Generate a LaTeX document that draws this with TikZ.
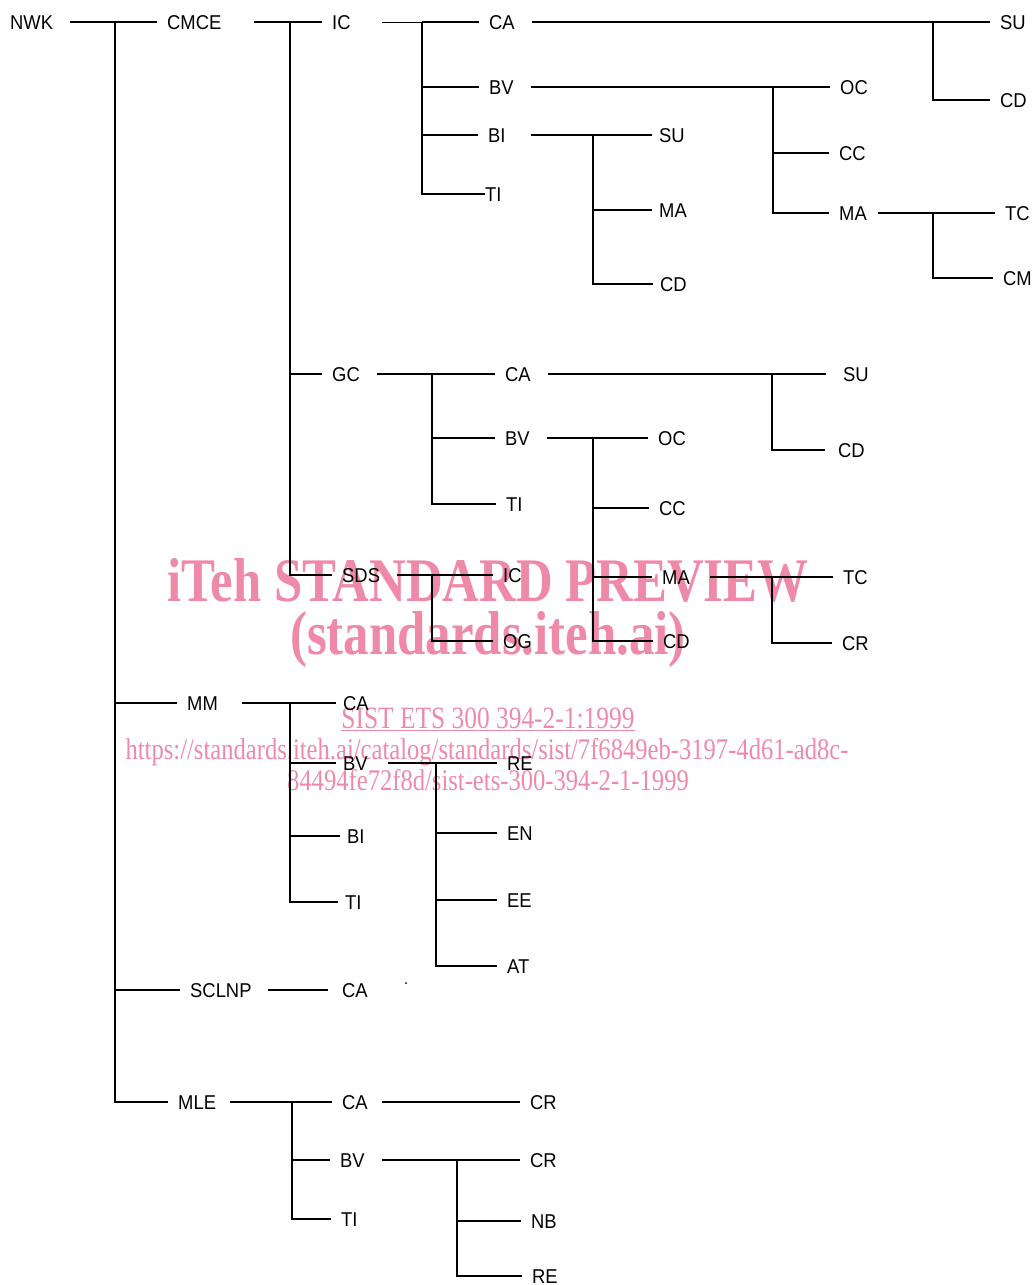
\documentclass[tikz,border=0pt]{standalone}
\usepackage{fontspec}
\usepackage{xcolor}

\newfontfamily\treefont{Liberation Sans}[FakeStretch=0.92]
\newfontfamily\markfont{Liberation Serif}[FakeStretch=0.82]
\definecolor{wmpink}{RGB}{238,138,168}

\tikzset{
	lbl/.style={anchor=west, inner sep=0pt, text height=14pt, text depth=0pt,
			font=\treefont\fontsize{20}{24}\selectfont},
	link/.style={line width=2pt, shorten <=17pt, shorten >=10pt},
	branch/.style={line width=2pt, shorten >=10pt},
	wmtext/.style={inner sep=0pt, text=wmpink}
}

\begin{document}
\begin{tikzpicture}[x=1pt, y=-1pt]
		\useasboundingbox (0,0) rectangle (1034,1285);

		% Watermark behind the tree
		\node[wmtext, font=\markfont\bfseries\fontsize{62}{62}\selectfont] (wmTitle) at (488,580) {iTeh STANDARD PREVIEW};
		\node[wmtext, font=\markfont\bfseries\fontsize{62}{62}\selectfont] (wmSite) at (488,640) {(standards.iteh.ai)};
		\node[wmtext, anchor=base, font=\markfont\fontsize{31}{31}\selectfont] (wmStd) at (488,728) {\underline{SIST ETS 300 394-2-1:1999}};
		\node[wmtext, anchor=base, font=\markfont\fontsize{30}{30}\selectfont] (wmUrlA) at (487,759) {https://standards.iteh.ai/catalog/standards/sist/7f6849eb-3197-4d61-ad8c-};
		\node[wmtext, anchor=base, font=\markfont\fontsize{30}{30}\selectfont] (wmUrlB) at (488,790) {84494fe72f8d/sist-ets-300-394-2-1-1999};

		% Top level
		\node[lbl] (nwk) at (10,22) {NWK};
		\node[lbl] (cmce) at (167,22) {CMCE};
		\node[lbl] (mm) at (187,703) {MM};
		\node[lbl] (sclnp) at (190,990) {SCLNP};
		\node[lbl] (mle) at (178,1102) {MLE};
		\coordinate (bNwk) at (115,22);
		\draw[link] (nwk.east) -- (cmce.west);
		\foreach \kid in {mm,sclnp,mle}
			\draw[branch] (bNwk) |- (\kid.west);

		% CMCE
		\node[lbl] (ic) at (332,22) {IC};
		\node[lbl] (gc) at (332,374) {GC};
		\node[lbl] (sds) at (342,575) {SDS};
		\coordinate (bCmce) at (290,22);
		\draw[link, shorten <=32pt] (cmce.east) -- (ic.west);
		\foreach \kid in {gc,sds}
			\draw[branch] (bCmce) |- (\kid.west);

		% CMCE / IC
		\node[lbl] (icCa) at (489,22) {CA};
		\node[lbl] (icBv) at (489,87) {BV};
		\node[lbl] (icBi) at (488,135) {BI};
		\node[lbl] (icTi) at (485,194) {TI};
		\coordinate (bIc) at (422,22);
		\draw[line width=0.9pt, shorten <=31pt] (ic.east) -- (bIc);
		\draw[branch] (bIc) -- (icCa.west);
		\foreach \kid in {icBv,icBi}
			\draw[branch] (bIc) |- (\kid.west);
		\draw[branch, shorten >=0pt] (bIc) |- (icTi.west);

		\node[lbl] (icCaSu) at (1000,22) {SU};
		\node[lbl] (icCaCd) at (1000,100) {CD};
		\coordinate (bIcCa) at (933,22);
		\draw[link] (icCa.east) -- (icCaSu.west);
		\draw[branch] (bIcCa) |- (icCaCd.west);

		\node[lbl] (icBvOc) at (840,87) {OC};
		\node[lbl] (icBvCc) at (839,153) {CC};
		\node[lbl] (icBvMa) at (839,213) {MA};
		\coordinate (bIcBv) at (773,87);
		\draw[link] (icBv.east) -- (icBvOc.west);
		\foreach \kid in {icBvCc,icBvMa}
			\draw[branch] (bIcBv) |- (\kid.west);

		\node[lbl] (icMaTc) at (1005,213) {TC};
		\node[lbl] (icMaCm) at (1003,278) {CM};
		\coordinate (bIcMa) at (933,213);
		\draw[link, shorten <=11pt] (icBvMa.east) -- (icMaTc.west);
		\draw[branch] (bIcMa) |- (icMaCm.west);

		\node[lbl] (icBiSu) at (659,135) {SU};
		\node[lbl] (icBiMa) at (659,210) {MA};
		\node[lbl] (icBiCd) at (660,284) {CD};
		\coordinate (bIcBi) at (593,135);
		\draw[link, shorten <=25pt, shorten >=7pt] (icBi.east) -- (icBiSu.west);
		\foreach \kid in {icBiMa,icBiCd}
			\draw[branch, shorten >=7pt] (bIcBi) |- (\kid.west);

		% CMCE / GC
		\node[lbl] (gcCa) at (505,374) {CA};
		\node[lbl] (gcBv) at (505,438) {BV};
		\node[lbl] (gcTi) at (506,504) {TI};
		\coordinate (bGc) at (432,374);
		\draw[link] (gc.east) -- (gcCa.west);
		\foreach \kid in {gcBv,gcTi}
			\draw[branch] (bGc) |- (\kid.west);

		\node[lbl] (gcCaSu) at (843,374) {SU};
		\node[lbl] (gcCaCd) at (838,450) {CD};
		\coordinate (bGcCa) at (772,374);
		\draw[link, shorten >=17pt] (gcCa.east) -- (gcCaSu.west);
		\draw[branch, shorten >=13pt] (bGcCa) |- (gcCaCd.west);

		\node[lbl] (gcBvOc) at (658,438) {OC};
		\node[lbl] (gcBvCc) at (659,508) {CC};
		\node[lbl] (gcBvMa) at (662,577) {MA};
		\node[lbl] (gcBvCd) at (663,641) {CD};
		\coordinate (bGcBv) at (593,438);
		\draw[link] (gcBv.east) -- (gcBvOc.west);
		\foreach \kid in {gcBvCc,gcBvMa,gcBvCd}
			\draw[branch] (bGcBv) |- (\kid.west);

		\node[lbl] (gcMaTc) at (843,577) {TC};
		\node[lbl] (gcMaCr) at (842,643) {CR};
		\coordinate (bGcMa) at (772,577);
		\draw[link, shorten <=20pt] (gcBvMa.east) -- (gcMaTc.west);
		\draw[branch] (bGcMa) |- (gcMaCr.west);

		% CMCE / SDS
		\node[lbl] (sdsIc) at (503,575) {IC};
		\node[lbl] (sdsOg) at (503,641) {OG};
		\coordinate (bSds) at (432,575);
		\draw[link] (sds.east) -- (sdsIc.west);
		\draw[branch] (bSds) |- (sdsOg.west);

		% MM
		\node[lbl] (mmCa) at (343,703) {CA};
		\node[lbl] (mmBv) at (343,763) {BV};
		\node[lbl] (mmBi) at (347,836) {BI};
		\node[lbl] (mmTi) at (345,902) {TI};
		\coordinate (bMm) at (290,703);
		\draw[link, shorten <=24pt, shorten >=7pt] (mm.east) -- (mmCa.west);
		\foreach \kid in {mmBv,mmBi,mmTi}
			\draw[branch, shorten >=7pt] (bMm) |- (\kid.west);

		\node[lbl] (mmBvRe) at (507,763) {RE};
		\node[lbl] (mmBvEn) at (507,833) {EN};
		\node[lbl] (mmBvEe) at (507,900) {EE};
		\node[lbl] (mmBvAt) at (507,966) {AT};
		\coordinate (bMmBv) at (436,763);
		\draw[link, shorten <=20pt] (mmBv.east) -- (mmBvRe.west);
		\foreach \kid in {mmBvEn,mmBvEe,mmBvAt}
			\draw[branch] (bMmBv) |- (\kid.west);

		% SCLNP
		\node[lbl] (scCa) at (342,990) {CA};
		\draw[link, shorten <=16pt, shorten >=14pt] (sclnp.east) -- (scCa.west);
		\fill (406,983) circle (1pt);

		% MLE
		\node[lbl] (mleCa) at (342,1102) {CA};
		\node[lbl] (mleBv) at (340,1160) {BV};
		\node[lbl] (mleTi) at (341,1219) {TI};
		\coordinate (bMle) at (292,1102);
		\draw[link, shorten <=14pt] (mle.east) -- (mleCa.west);
		\foreach \kid in {mleBv,mleTi}
			\draw[branch] (bMle) |- (\kid.west);

		\node[lbl] (mleCaCr) at (530,1102) {CR};
		\node[lbl] (mleBvCr) at (530,1160) {CR};
		\node[lbl] (mleBvNb) at (531,1221) {NB};
		\node[lbl] (mleBvRe) at (532,1276) {RE};
		\coordinate (bMleBv) at (457,1160);
		\draw[link, shorten <=14pt] (mleCa.east) -- (mleCaCr.west);
		\draw[link] (mleBv.east) -- (mleBvCr.west);
		\foreach \kid in {mleBvNb,mleBvRe}
			\draw[branch] (bMleBv) |- (\kid.west);
	\end{tikzpicture}
\end{document}
